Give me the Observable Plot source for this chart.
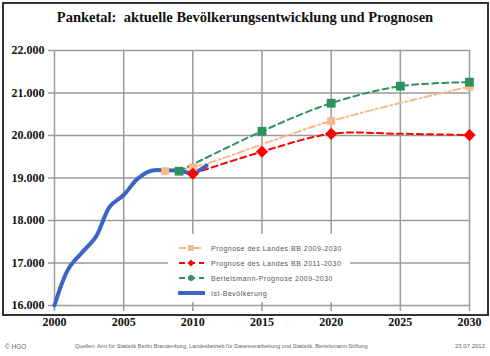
<!DOCTYPE html>
<html><head><meta charset="utf-8">
<script src="https://cdn.jsdelivr.net/npm/d3@7"></script>
<script src="https://cdn.jsdelivr.net/npm/@observablehq/plot@0.6"></script>
<style>
body{margin:0;background:#fff;}
#wrap{position:relative;width:490px;height:356px;overflow:hidden;font-family:"Liberation Sans",sans-serif;}
#frame{position:absolute;left:2px;top:2px;width:483px;height:310px;border:2px solid #333;}
#title{position:absolute;left:0;top:9px;width:490px;text-align:center;font:bold 14.5px "Liberation Serif",serif;color:#111;}
#chart{position:absolute;left:0;top:0;}
#legend{position:absolute;left:168px;top:234px;width:182px;height:68px;background:#fff;}
.li{position:absolute;left:10px;height:14px;display:flex;align-items:center;font-size:7px;letter-spacing:0.5px;color:#555;}
.li svg{margin-right:6px;}
.foot{position:absolute;top:343px;font-size:5.6px;color:#666;white-space:nowrap;}
</style></head><body>
<div id="wrap">
<div id="frame"></div>
<div id="chart"></div>
<div id="title">Panketal:&nbsp; aktuelle Bevölkerungsentwicklung und Prognosen</div>
<div id="legend"></div>
<div class="foot" style="left:5px;font-size:6.5px">© HGO</div>
<div class="foot" style="left:75px">Quellen: Amt für Statistik Berlin Brandenburg, Landesbetrieb für Datenverarbeitung und Statistik, Bertelsmann-Stiftung</div>
<div class="foot" style="left:455px;font-size:6px">23.07.2012</div>
</div>
<script>
// Data
const istYears = [2000,2001,2002,2003,2004,2005,2006,2007,2008,2009,2010,2011];
const istValues = [16000,16860,17250,17620,18330,18600,18980,19170,19180,19170,19120,19290];

const bb2009Years = [2008,2010,2020,2030];
const bb2009Values = [19160,19250,20340,21150];

const bb2011Years = [2010,2015,2020,2025,2030];
const bb2011Values = [19100,19620,20040,20040,20010];
const bb2011Markers = [true,true,true,false,true];

const bertYears = [2009,2015,2020,2025,2030];
const bertValues = [19160,20100,20760,21160,21255];

const xTicks = [2000,2005,2010,2015,2020,2025,2030];
const yTicks = [16000,17000,18000,19000,20000,21000,22000];

const seriesNames = ["Prognose des Landes BB 2009-2030","Prognose des Landes BB 2011-2030","Bertelsmann-Prognose 2009-2030","Ist-Bevölkerung"];
const colors = {orange:"#fbb88a", red:"#ff0000", green:"#2e9160", blue:"#3a64c6"};

const toRows = (ys, vs, extra) => ys.map((y,i)=>({year:y, value:vs[i], m: extra ? extra[i] : true}));
const ist = toRows(istYears, istValues);
const bb09 = toRows(bb2009Years, bb2009Values);
const bb11 = toRows(bb2011Years, bb2011Values, bb2011Markers);
const bert = toRows(bertYears, bertValues);

const fmt = d => d3.format(",")(d).replace(/,/g,".");
const tickFont = {fontFamily:"Liberation Serif, serif", fontWeight:"bold", fontSize:12, fill:"#111"};

const chart = Plot.plot({
  width:490, height:330,
  marginLeft:54, marginRight:21, marginTop:50, marginBottom:25,
  x:{domain:[2000,2030], label:null},
  y:{domain:[16000,22000], label:null},
  style:{background:"transparent", overflow:"visible"},
  marks:[
    Plot.gridX(xTicks,{stroke:"#9a9a9a", strokeOpacity:1, strokeWidth:1.5}),
    Plot.gridY(yTicks,{stroke:"#9a9a9a", strokeOpacity:1, strokeWidth:1.5}),
    Plot.axisY(yTicks,{tickSize:6, tickPadding:4, stroke:"#9a9a9a", strokeWidth:1.5, tickFormat:fmt, label:null, ...tickFont}),
    Plot.axisX(xTicks,{tickSize:6, tickPadding:6, stroke:"#9a9a9a", strokeWidth:1.5, tickFormat:d=>String(d), label:null, ...tickFont}),
    Plot.line(bb09,{x:"year", y:"value", stroke:colors.orange, strokeWidth:2, strokeDasharray:"7 3 2 3", curve:"catmull-rom"}),
    Plot.line(bb11,{x:"year", y:"value", stroke:colors.red, strokeWidth:2, strokeDasharray:"6 4", curve:"catmull-rom"}),
    Plot.line(bert,{x:"year", y:"value", stroke:colors.green, strokeWidth:2, strokeDasharray:"6 4", curve:"catmull-rom"}),
    Plot.line(ist,{x:"year", y:"value", stroke:colors.blue, strokeWidth:4, curve:"catmull-rom"}),
    Plot.dot(bb09,{x:"year", y:"value", symbol:"square", r:4.5, fill:colors.orange, stroke:"none"}),
    Plot.dot(bb11.filter(d=>d.m),{x:"year", y:"value", symbol:"diamond2", r:5.5, fill:colors.red, stroke:"none"}),
    Plot.dot(bert,{x:"year", y:"value", symbol:"square", r:5, fill:colors.green, stroke:"none"})
  ]
});
document.getElementById("chart").appendChild(chart);

// Legend
const leg = document.getElementById("legend");
const sw = [
  {c:colors.orange, dash:"7 3 2 3", w:2, mk:"sq"},
  {c:colors.red, dash:"6 4", w:2, mk:"di"},
  {c:colors.green, dash:"6 4", w:2, mk:"ci"},
  {c:colors.blue, dash:null, w:4, mk:null}
];
seriesNames.forEach((name,i)=>{
  const s = sw[i];
  const div = document.createElement("div");
  div.className="li";
  div.style.top = (7 + i*15) + "px";
  let mk = "";
  if (s.mk==="sq") mk = `<rect x="10" y="3" width="6" height="6" fill="${s.c}"/>`;
  if (s.mk==="di") mk = `<path d="M13 2.5 L16.5 6 L13 9.5 L9.5 6Z" fill="${s.c}"/>`;
  if (s.mk==="ci") mk = `<circle cx="13" cy="6" r="3" fill="${s.c}"/>`;
  div.innerHTML = `<svg width="27" height="12"><line x1="1" y1="6" x2="26" y2="6" stroke="${s.c}" stroke-width="${s.w}" ${s.dash?`stroke-dasharray="${s.dash}"`:""} stroke-linecap="${s.dash?'butt':'round'}"/>${mk}</svg><span>${name}</span>`;
  leg.appendChild(div);
});
</script>
</body></html>
